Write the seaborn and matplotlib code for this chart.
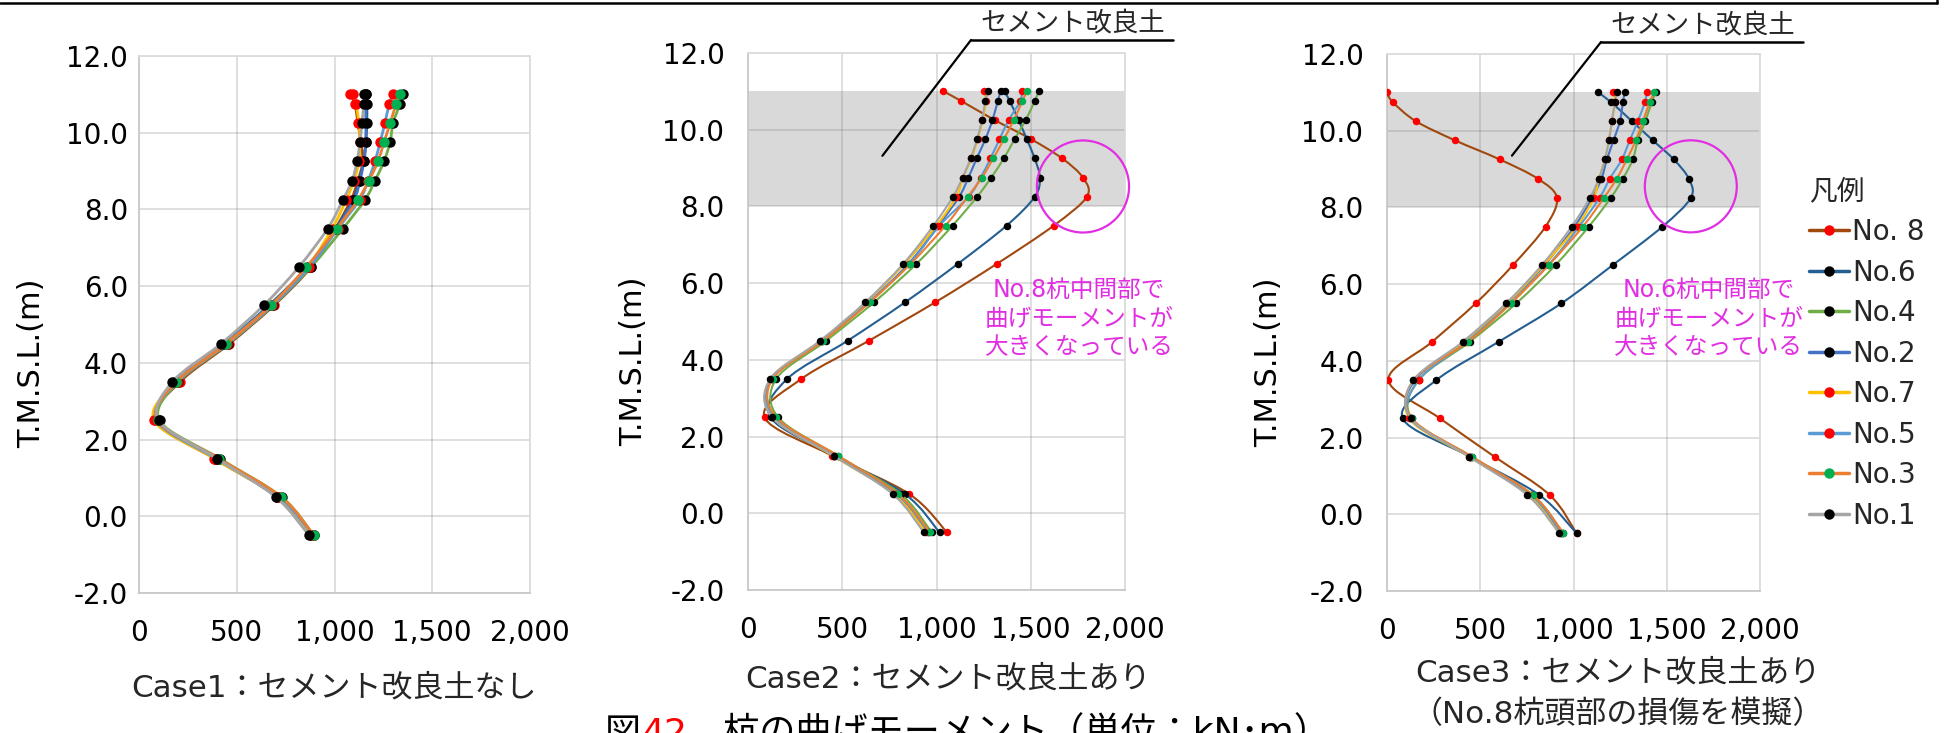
import matplotlib
matplotlib.use("Agg")
import matplotlib.pyplot as plt
import seaborn as sns
import pandas as pd
from matplotlib.patches import Ellipse, PathPatch
from matplotlib.path import Path
from matplotlib.lines import Line2D
from matplotlib.ticker import FuncFormatter

# ---------------------------------------------------------------------------
# Data: bending moment (kN·m) of each pile against elevation T.M.S.L. (m)
# ---------------------------------------------------------------------------
depth = [11.0, 10.75, 10.25, 9.75, 9.25, 8.75, 8.25, 7.5, 6.5, 5.5, 4.5, 3.5, 2.5, 1.5, 0.5, -0.5]

pile_names = ["No. 8", "No.6", "No.4", "No.2", "No.7", "No.5", "No.3", "No.1"]
line_colors = ["#A0480E", "#255E91", "#70AD47", "#4472C4", "#FFC000", "#5B9BD5", "#ED7D31", "#A5A5A5"]
marker_colors = ["#FF0000", "#000000", "#000000", "#000000", "#FF0000", "#FF0000", "#00B050", "#000000"]

# Case1: no cement-improved soil
c1_no8 = [1080, 1105, 1120, 1135, 1145, 1120, 1085, 1005, 880, 690, 462, 208, 82, 388, 712, 893]
c1_no6 = [1160, 1165, 1165, 1160, 1150, 1125, 1095, 1005, 862, 665, 438, 182, 96, 396, 705, 882]
c1_no4 = [1350, 1335, 1300, 1284, 1253, 1207, 1156, 1043, 880, 685, 455, 200, 105, 414, 730, 895]
c1_no2 = [1160, 1160, 1160, 1160, 1150, 1130, 1100, 1010, 865, 670, 440, 185, 95, 395, 708, 880]
c1_no7 = [1095, 1110, 1125, 1130, 1125, 1100, 1060, 988, 862, 676, 446, 192, 78, 386, 710, 886]
c1_no5 = [1300, 1280, 1258, 1233, 1207, 1172, 1128, 1018, 872, 682, 452, 196, 90, 396, 716, 892]
c1_no3 = [1335, 1315, 1285, 1253, 1222, 1176, 1120, 1012, 856, 675, 447, 190, 95, 410, 728, 895]
c1_no1 = [1150, 1150, 1140, 1130, 1115, 1090, 1043, 965, 818, 638, 420, 170, 102, 400, 700, 870]

# Case2: with cement-improved soil
c2_no8 = [1037, 1131, 1309, 1503, 1667, 1777, 1797, 1622, 1319, 993, 642, 282, 88, 447, 856, 1056]
c2_no6 = [1362, 1388, 1436, 1479, 1521, 1548, 1521, 1372, 1112, 833, 529, 207, 120, 460, 833, 1016]
c2_no4 = [1543, 1521, 1473, 1414, 1357, 1290, 1215, 1085, 893, 668, 415, 149, 160, 477, 810, 975]
c2_no2 = [1340, 1325, 1297, 1259, 1213, 1169, 1120, 1010, 850, 640, 395, 125, 128, 455, 785, 955]
c2_no7 = [1253, 1262, 1244, 1218, 1185, 1140, 1105, 1000, 830, 625, 385, 120, 130, 450, 775, 945]
c2_no5 = [1451, 1445, 1383, 1334, 1286, 1234, 1170, 1016, 855, 640, 395, 125, 140, 456, 790, 960]
c2_no3 = [1479, 1456, 1410, 1357, 1301, 1241, 1165, 1048, 862, 646, 400, 130, 150, 477, 796, 966]
c2_no1 = [1274, 1259, 1241, 1215, 1181, 1138, 1087, 984, 823, 622, 383, 117, 128, 454, 768, 933]

# Case3: with cement-improved soil, damaged head of pile No.8
c3_no8 = [0, 30, 154, 364, 605, 808, 911, 850, 676, 476, 243, 8, 284, 577, 873, 1017]
c3_no6 = [1131, 1200, 1313, 1425, 1538, 1618, 1629, 1477, 1211, 935, 600, 265, 84, 445, 817, 1017]
c3_no4 = [1440, 1420, 1385, 1345, 1318, 1265, 1200, 1082, 904, 693, 444, 170, 133, 455, 782, 946]
c3_no2 = [1275, 1265, 1249, 1215, 1179, 1150, 1100, 1005, 845, 650, 420, 150, 125, 445, 770, 935]
c3_no7 = [1211, 1222, 1206, 1190, 1168, 1136, 1109, 1018, 840, 645, 415, 170, 118, 440, 760, 925]
c3_no5 = [1393, 1383, 1345, 1302, 1259, 1195, 1140, 1030, 865, 660, 430, 170, 125, 448, 775, 940]
c3_no3 = [1431, 1409, 1372, 1334, 1286, 1232, 1163, 1050, 868, 665, 435, 142, 133, 455, 782, 946]
c3_no1 = [1232, 1222, 1206, 1190, 1168, 1136, 1088, 990, 831, 638, 407, 142, 128, 440, 753, 924]

case1 = [c1_no8, c1_no6, c1_no4, c1_no2, c1_no7, c1_no5, c1_no3, c1_no1]
case2 = [c2_no8, c2_no6, c2_no4, c2_no2, c2_no7, c2_no5, c2_no3, c2_no1]
case3 = [c3_no8, c3_no6, c3_no4, c3_no2, c3_no7, c3_no5, c3_no3, c3_no1]

x_ticks = [0, 500, 1000, 1500, 2000]
y_ticks = [-2, 0, 2, 4, 6, 8, 10, 12]
improved_layer = (8.0, 11.0)

# ---------------------------------------------------------------------------
sns.set_theme(style="white")
plt.rcParams["font.family"] = ["DejaVu Sans", "Noto Sans CJK JP"]

W, H = 1944, 733
fig = plt.figure(figsize=(W / 100, H / 100), dpi=100)


def fx(px):
    return px / W


def fy(py):
    return 1 - py / H


def make_axes(left, top, right, bottom):
    return fig.add_axes([fx(left), fy(bottom), (right - left) / W, (bottom - top) / H])


ax1 = make_axes(139, 56, 530, 593)
ax2 = make_axes(748, 53, 1125, 590)
ax3 = make_axes(1387, 54, 1760, 591)

MAGENTA = "#E22EE2"


def smooth_path(xs, ys):
    """Cubic Bezier path through the points (spreadsheet-style smoothed line)."""
    pts = list(zip(xs, ys))
    n = len(pts)
    verts, codes = [pts[0]], [Path.MOVETO]
    for i in range(n - 1):
        p0 = pts[i - 1] if i > 0 else pts[i]
        p1, p2 = pts[i], pts[i + 1]
        p3 = pts[i + 2] if i + 2 < n else pts[i + 1]
        c1 = (p1[0] + (p2[0] - p0[0]) / 6, p1[1] + (p2[1] - p0[1]) / 6)
        c2 = (p2[0] - (p3[0] - p1[0]) / 6, p2[1] - (p3[1] - p1[1]) / 6)
        verts += [c1, c2, p2]
        codes += [Path.CURVE4] * 3
    return Path(verts, codes)


def draw_case(ax, series, lw, ms, ytick_pad, band):
    if band:
        ax.axhspan(*improved_layer, color="#D9D9D9", zorder=0.5, lw=0)
    for k, (vals, lc, mc) in enumerate(zip(series, line_colors, marker_colors)):
        ax.add_patch(PathPatch(smooth_path(vals, depth), fill=False, edgecolor=lc, lw=lw,
                               capstyle="round", joinstyle="round", zorder=3 + 0.02 * k))
        df = pd.DataFrame({"M": vals, "z": depth})
        sns.scatterplot(data=df, x="M", y="z", ax=ax, color=mc, s=ms ** 2, linewidth=0,
                        zorder=3.01 + 0.02 * k)
    ax.set_xlim(0, 2000)
    ax.set_ylim(-2, 12)
    ax.set_xticks(x_ticks)
    ax.set_yticks(y_ticks)
    ax.xaxis.set_major_formatter(FuncFormatter(lambda v, p: f"{v:,.0f}"))
    ax.yaxis.set_major_formatter(FuncFormatter(lambda v, p: f"{v:.1f}"))
    ax.grid(True, color="#808080", alpha=0.28, lw=1.3, zorder=1)
    ax.set_axisbelow(True)
    ax.tick_params(axis="both", length=0, labelsize=20, colors="black")
    ax.tick_params(axis="x", pad=19)
    ax.tick_params(axis="y", pad=ytick_pad)
    for side, sp in ax.spines.items():
        sp.set_visible(True)
        sp.set_linewidth(1.3)
        sp.set_color("#C9C9C9" if side in ("left", "bottom") else "#DCDCDC")
    ax.set_xlabel("")
    ax.set_ylabel("T.M.S.L.(m)", fontsize=22, color="black")


draw_case(ax1, case1, lw=2.0, ms=7.5, ytick_pad=8, band=False)
draw_case(ax2, case2, lw=1.5, ms=5.4, ytick_pad=17, band=True)
draw_case(ax3, case3, lw=1.5, ms=5.4, ytick_pad=17, band=True)

ax1.yaxis.set_label_coords(-0.238, 0.427)
ax2.yaxis.set_label_coords(-0.265, 0.426)
ax3.yaxis.set_label_coords(-0.279, 0.426)

# Case captions below each chart
cap_size = 22.3
fig.text(fx(334), fy(688), "Case1：セメント改良土なし", fontsize=cap_size, ha="center", va="center")
fig.text(fx(948), fy(679), "Case2：セメント改良土あり", fontsize=cap_size, ha="center", va="center")
fig.text(fx(1618), fy(673), "Case3：セメント改良土あり", fontsize=cap_size, ha="center", va="center")
fig.text(fx(1618), fy(714), "（No.8杭頭部の損傷を模擬）", fontsize=cap_size, ha="center", va="center")

# "cement-improved soil" callouts with underline and leader line
for ax, cx, uy, x0, x1, tip in [(ax2, 1073, 40, 971, 1173, (713, 9.32)),
                                (ax3, 1703, 42, 1601, 1803, (670, 9.35))]:
    fig.text(fx(cx), fy(uy - 3), "セメント改良土", fontsize=19, ha="center", va="bottom")
    fig.add_artist(Line2D([fx(x0), fx(x1)], [fy(uy), fy(uy)], color="black", lw=1.8))
    ax.annotate("", xy=tip, xycoords="data", xytext=(x0, H - uy), textcoords="figure pixels",
                arrowprops=dict(arrowstyle="-", color="black", lw=1.6, shrinkA=0, shrinkB=0),
                annotation_clip=False)

# Highlighted region and comment for the pile with the largest mid-depth moment
ax2.add_patch(Ellipse((1777, 8.52), 489, 2.4, fill=False, ec=MAGENTA, lw=1.6, clip_on=False, zorder=5))
ax3.add_patch(Ellipse((1629, 8.55), 493, 2.4, fill=False, ec=MAGENTA, lw=1.6, clip_on=False, zorder=5))
ax2.text(0.878, 0.505, "No.8杭中間部で\n曲げモーメントが\n大きくなっている", transform=ax2.transAxes,
         color=MAGENTA, fontsize=17, ha="center", va="center", linespacing=1.25, clip_on=False)
ax3.text(0.863, 0.507, "No.6杭中間部で\n曲げモーメントが\n大きくなっている", transform=ax3.transAxes,
         color=MAGENTA, fontsize=17, ha="center", va="center", linespacing=1.25, clip_on=False)

# Legend
handles = [Line2D([], [], color=lc, lw=2.5, marker="o", ms=7.5, mfc=mc, mec=mc, mew=0)
           for lc, mc in zip(line_colors, marker_colors)]
leg = fig.legend(handles, pile_names, loc="upper left", bbox_to_anchor=(fx(1803), fy(172)),
                 title="凡例", frameon=True, facecolor="white", edgecolor="none", framealpha=1,
                 fontsize=20, title_fontsize=20, alignment="left", handlelength=1.45,
                 handletextpad=0.12, labelspacing=0.45, borderpad=0.2, borderaxespad=0)
leg.set_zorder(10)

# Frame line along the top of the page
fig.add_artist(Line2D([0, fx(1937)], [fy(3), fy(3)], color="black", lw=1.8))
fig.add_artist(Line2D([fx(1937), fx(1937)], [fy(0), fy(3)], color="black", lw=1.8))

# Figure caption (runs past the lower page edge)
fig.canvas.draw()
renderer = fig.canvas.get_renderer()
x_cursor = 605
for part, col in [("図", "black"), ("42", "#FF0000"), ("　杭の曲げモーメント（単位：kN･m）", "black")]:
    t = fig.text(fx(x_cursor), fy(744), part, fontsize=26, color=col, ha="left", va="baseline")
    x_cursor += t.get_window_extent(renderer).width

fig.savefig("out.png", dpi=100)
